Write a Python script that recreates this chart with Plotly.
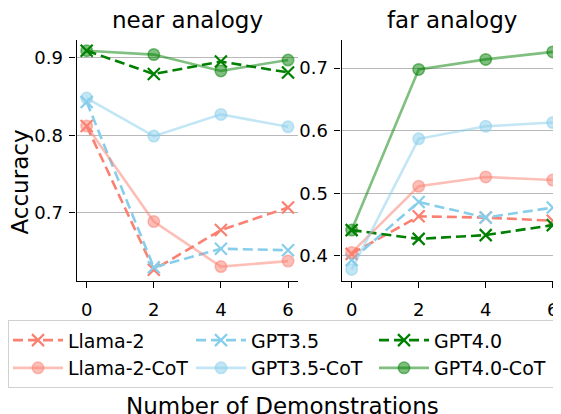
import plotly.graph_objects as go

steps = [0, 2, 4, 6]

near_llama = [0.812, 0.627, 0.678, 0.707]
near_llama_cot = [0.812, 0.689, 0.631, 0.638]
near_gpt35 = [0.843, 0.630, 0.654, 0.652]
near_gpt35_cot = [0.848, 0.799, 0.827, 0.811]
near_gpt4 = [0.909, 0.879, 0.895, 0.881]
near_gpt4_cot = [0.909, 0.904, 0.883, 0.897]

far_llama = [0.403, 0.463, 0.461, 0.456]
far_llama_cot = [0.405, 0.511, 0.526, 0.521]
far_gpt35 = [0.393, 0.486, 0.461, 0.477]
far_gpt35_cot = [0.378, 0.587, 0.607, 0.613]
far_gpt4 = [0.441, 0.427, 0.433, 0.449]
far_gpt4_cot = [0.441, 0.698, 0.714, 0.726]

panel_titles = ["near analogy", "far analogy"]
x_label = "Number of Demonstrations"
y_label = "Accuracy"

FONT = "DejaVu Sans"
W, H = 561, 414
OFF = 8  # page body margin offset


def px(v):
    return (v - OFF) / W


def py(v):
    return 1 - (v - OFF) / H


colors = {
    "Llama-2": (250, 128, 114),
    "GPT3.5": (135, 206, 235),
    "GPT4.0": (0, 128, 0),
}


def rgba(c, a):
    return f"rgba({c[0]},{c[1]},{c[2]},{a})"


near = {
    "Llama-2": near_llama, "GPT3.5": near_gpt35, "GPT4.0": near_gpt4,
    "Llama-2-CoT": near_llama_cot, "GPT3.5-CoT": near_gpt35_cot, "GPT4.0-CoT": near_gpt4_cot,
}
far = {
    "Llama-2": far_llama, "GPT3.5": far_gpt35, "GPT4.0": far_gpt4,
    "Llama-2-CoT": far_llama_cot, "GPT3.5-CoT": far_gpt35_cot, "GPT4.0-CoT": far_gpt4_cot,
}
order = ["Llama-2", "GPT3.5", "GPT4.0", "Llama-2-CoT", "GPT3.5-CoT", "GPT4.0-CoT"]

fig = go.Figure()


def add_panel(data, xa, ya, show):
    for name in order:
        base = name.replace("-CoT", "")
        c = colors[base]
        if name.endswith("CoT"):
            fig.add_trace(go.Scatter(
                x=steps, y=data[name], xaxis=xa, yaxis=ya, name=name,
                mode="lines+markers", showlegend=show, legendgroup=name,
                line=dict(color=rgba(c, 0.5), width=2.6),
                marker=dict(symbol="circle", size=11.5, color=rgba(c, 0.5),
                            line=dict(color=rgba(c, 0.5), width=1.5)),
                cliponaxis=False,
            ))
        else:
            fig.add_trace(go.Scatter(
                x=steps, y=data[name], xaxis=xa, yaxis=ya, name=name,
                mode="lines+markers", showlegend=show, legendgroup=name,
                line=dict(color=rgba(c, 1), width=2.6, dash="10px,5px"),
                marker=dict(symbol="x-thin", size=12, color=rgba(c, 1),
                            line=dict(color=rgba(c, 1), width=2.2)),
                cliponaxis=False,
            ))


add_panel(near, "x", "y", True)
add_panel(far, "x2", "y2", False)

ydom = [py(281), py(40)]
axis_common = dict(
    showline=True, linecolor="black", linewidth=1.3,
    ticks="outside", ticklen=6, tickwidth=1.3, tickcolor="black",
    tickfont=dict(family=FONT, size=18, color="black"),
    zeroline=False, automargin=False,
)

fig.update_layout(
    width=W, height=H,
    margin=dict(l=0, r=0, t=0, b=0, autoexpand=False),
    paper_bgcolor="white", plot_bgcolor="white",
    font=dict(family=FONT, color="black"),
    xaxis=dict(domain=[px(76.6), px(298.1)], range=[-0.3, 6.3], ticklabelstandoff=6,
               tickvals=steps, showgrid=False, anchor="y", **axis_common),
    yaxis=dict(domain=ydom, range=[0.6124, 0.9228], tickvals=[0.7, 0.8, 0.9],
               ticklabelstandoff=3,
               showgrid=True, gridcolor="#b8b8b8", gridwidth=1.3, anchor="x",
               **axis_common),
    xaxis2=dict(domain=[px(341.6), px(562.8)], range=[-0.3, 6.3], ticklabelstandoff=6,
                tickvals=steps, showgrid=False, anchor="y2", **axis_common),
    yaxis2=dict(domain=ydom, range=[0.3596, 0.745], tickvals=[0.4, 0.5, 0.6, 0.7],
                ticklabelstandoff=3,
                showgrid=True, gridcolor="#b8b8b8", gridwidth=1.3, anchor="x2",
                **axis_common),
    legend=dict(
        orientation="h", x=0, y=py(320), xanchor="left", yanchor="top",
        bordercolor="#d0d0d0", borderwidth=1.3, bgcolor="white",
        font=dict(family=FONT, size=19, color="black"),
        entrywidth=118, tracegroupgap=0, itemwidth=50,
    ),
    annotations=[
        dict(text=panel_titles[0], x=px(187.4), y=py(35.5), xref="paper", yref="paper",
             xanchor="center", yanchor="bottom", showarrow=False,
             font=dict(family=FONT, size=23, color="black")),
        dict(text=panel_titles[1], x=px(452), y=py(35.5), xref="paper", yref="paper",
             xanchor="center", yanchor="bottom", showarrow=False,
             font=dict(family=FONT, size=23, color="black")),
        dict(text=x_label, x=px(282.6), y=py(405.5), xref="paper", yref="paper",
             xanchor="center", yanchor="middle", showarrow=False,
             font=dict(family=FONT, size=23, color="black")),
        dict(text=y_label, x=px(19), y=py(182.5), xref="paper", yref="paper",
             xanchor="center", yanchor="middle", showarrow=False, textangle=-90,
             font=dict(family=FONT, size=23, color="black")),
    ],
)

fig.write_html("out.html")
